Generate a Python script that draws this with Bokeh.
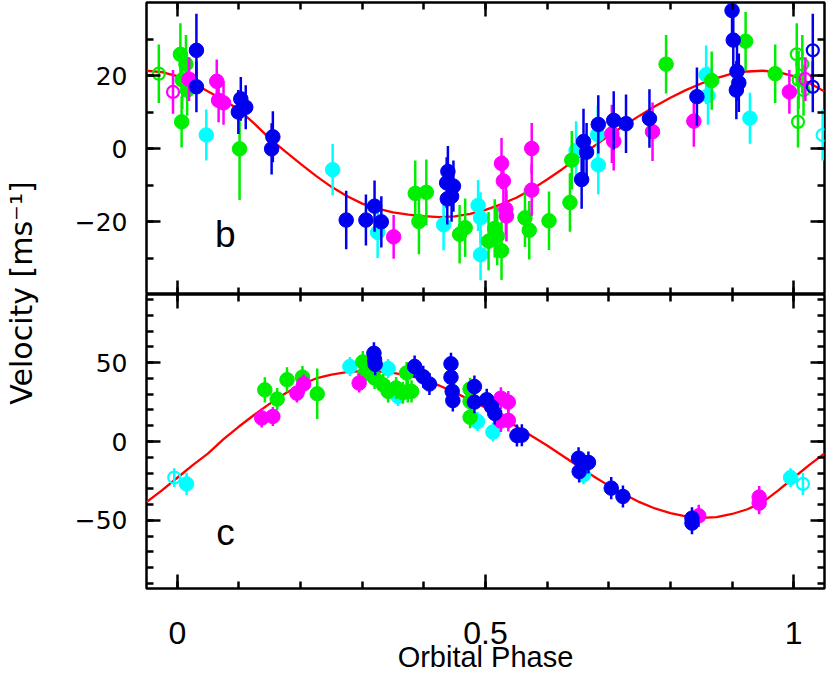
import math
from bokeh.plotting import figure
from bokeh.models import (Range1d, FixedTicker, LinearAxis, ColumnDataSource,
                          CustomJSTickFormatter)
from bokeh.layouts import row, column
from bokeh.embed import file_html
from bokeh.resources import INLINE
from bokeh.core.properties import value

# ---------------- data: planet b (top panel) ----------------
b_phase = [0.005, 0.014, 0.008, 0.016, 0.007, 0.101, 0.386, 0.392, 0.404, 0.458,
           0.467, 0.505, 0.515, 0.519, 0.526, 0.564, 0.571, 0.603, 0.637, 0.640,
           0.793, 0.867, 0.922, 0.970,
           0.047, 0.252, 0.325, 0.432, 0.488, 0.492, 0.492, 0.647, 0.682, 0.683,
           0.858, 0.861, 0.929,
           0.019, 0.064, 0.067, 0.075, 0.351, 0.526, 0.529, 0.533, 0.534, 0.575,
           0.575, 0.705, 0.708, 0.771, 0.838, 0.993,
           0.031, 0.031, 0.099, 0.103, 0.111, 0.153, 0.155, 0.274, 0.306, 0.320,
           0.331, 0.437, 0.438, 0.439, 0.445, 0.448, 0.656, 0.659, 0.664, 0.683,
           0.708, 0.728, 0.766, 0.843, 0.900, 0.902, 0.907, 0.908, 0.911]
b_rv = [25.8, 23.1, 18.8, 16.0, 7.3, -0.1, -12.3, -20.0, -12.0, -23.5,
        -21.7, -25.4, -21.9, -24.0, -28.0, -19.0, -22.4, -19.8, -14.8, -3.2,
        23.1, 18.6, 29.4, 20.5,
        3.7, -5.8, -23.0, -20.9, -15.6, -19.0, -29.1, -0.5, 3.8, -4.5,
        20.2, 14.5, 8.3,
        19.0, 18.4, 13.2, 12.5, -24.2, -4.1, -8.9, -16.6, -18.5, 0.0,
        -11.4, 4.0, 2.0, 4.6, 7.5, 15.5,
        26.9, 16.9, 10.0, 13.6, 11.3, -0.1, 3.2, -19.6, -19.6, -15.8,
        -20.1, -9.4, -13.8, -6.3, -13.1, -10.3, -8.5, 1.9, -1.0, 6.6,
        7.7, 6.8, 8.2, 14.2, 37.8, 29.7, 16.0, 21.1, 18.0]
b_err = [8.5, 8, 8, 7, 7, 14, 9, 9, 9, 8,
         8, 8, 8, 8, 8, 8, 8, 8, 8, 8,
         8, 8, 8, 8,
         7, 7, 7, 7, 7, 7, 7, 8, 8, 8,
         8, 8, 7,
         6, 6, 6, 6, 6, 7, 7, 7, 7, 7,
         7, 8, 8, 8, 7, 6,
         10, 7, 6, 6, 6, 7, 7, 8, 7, 7,
         7, 7, 7, 7, 7, 7, 8, 9, 8, 8,
         8, 8, 8, 8, 8, 8, 8, 8, 8]
b_inst = ["G"] * 24 + ["C"] * 13 + ["M"] * 16 + ["B"] * 29

b_model_phase = [-0.05, -0.025, 0.0, 0.025, 0.05, 0.075, 0.10, 0.125, 0.15, 0.175,
                 0.20, 0.225, 0.25, 0.275, 0.30, 0.325, 0.35, 0.375, 0.40, 0.425,
                 0.45, 0.475, 0.50, 0.525, 0.55, 0.575, 0.60, 0.625, 0.65, 0.675,
                 0.70, 0.725, 0.75, 0.775, 0.80, 0.825, 0.85, 0.875, 0.90, 0.925,
                 0.95, 0.975, 1.0, 1.025, 1.05]
b_model_rv = [21.3, 20.9, 19.8, 18.0, 15.6, 13.3, 10.6, 6.8, 2.7, -0.8,
              -4.2, -7.5, -10.5, -13.0, -15.1, -16.5, -17.5, -18.1, -18.5, -18.8,
              -18.6, -17.9, -16.8, -15.3, -13.5, -11.2, -8.5, -5.6, -2.5, 0.5,
              3.5, 6.3, 9.0, 11.6, 13.9, 16.0, 17.8, 19.3, 20.5, 21.1,
              21.3, 20.9, 19.8, 18.0, 15.6]

# ---------------- data: planet c (bottom panel) ----------------
c_phase = [0.142, 0.162, 0.178, 0.203, 0.227, 0.301, 0.304, 0.320, 0.334, 0.342,
           0.355, 0.366, 0.374, 0.372, 0.380, 0.475, 0.475, 0.475,
           0.015, 0.280, 0.342, 0.358, 0.487, 0.512, 0.657, 0.659, 0.995,
           0.137, 0.155, 0.194, 0.205, 0.295, 0.525, 0.537, 0.525, 0.537, 0.846,
           0.944, 0.944,
           0.319, 0.320, 0.321, 0.385, 0.399, 0.409, 0.444, 0.444, 0.446, 0.447,
           0.482, 0.482, 0.502, 0.510, 0.515, 0.551, 0.559, 0.651, 0.652, 0.667,
           0.704, 0.723, 0.835, 0.835]
c_rv = [32.8, 26.9, 39.2, 40.9, 30.3, 50.5, 43.0, 40.3, 36.0, 31.8,
        34.0, 31.0, 31.8, 43.5, 31.8, 33.3, 25.4, 15.4,
        -26.9, 47.6, 46.3, 28.6, 12.7, 6.0, -12.7, -21.2, -22.9,
        14.9, 15.9, 30.7, 36.5, 37.1, 27.5, 25.0, 13.0, 13.4, -47.2,
        -35.3, -39.1,
        56.0, 52.0, 49.0, 47.6, 41.1, 36.5, 49.3, 40.8, 31.8, 26.0,
        34.9, 25.0, 26.5, 22.0, 17.8, 3.8, 4.0, -10.6, -19.1, -13.3,
        -29.6, -34.9, -48.7, -51.8]
c_err = [8, 7, 8, 7, 16, 7, 7, 7, 7, 7,
         7, 7, 7, 7, 7, 7, 7, 7,
         7, 6, 6, 6, 6, 6, 6, 6, 6,
         6, 6, 6, 6, 6, 7, 7, 7, 7, 7,
         7, 7,
         7, 7, 7, 7, 7, 7, 7, 7, 7, 7,
         7, 7, 7, 7, 7, 7, 7, 7, 7, 7,
         7, 7, 7, 7]
c_inst = ["G"] * 18 + ["C"] * 9 + ["M"] * 12 + ["B"] * 24

c_model_phase = [-0.05, -0.025, 0.0, 0.025, 0.05, 0.075, 0.10, 0.125, 0.15, 0.175,
                 0.20, 0.225, 0.25, 0.275, 0.30, 0.325, 0.35, 0.375, 0.40, 0.425,
                 0.45, 0.475, 0.50, 0.525, 0.55, 0.575, 0.60, 0.625, 0.65, 0.675,
                 0.70, 0.725, 0.75, 0.775, 0.80, 0.825, 0.85, 0.875, 0.90, 0.925,
                 0.95, 0.975, 1.0, 1.025, 1.05]
c_model_rv = [-38.5, -31.0, -23.0, -15.0, -7.5, 1.5, 9.5, 17.0, 24.0, 30.5,
              36.0, 40.0, 42.5, 44.0, 44.7, 44.5, 43.5, 41.8, 39.5, 35.5,
              31.0, 26.5, 21.5, 16.0, 9.5, 3.5, -2.5, -9.0, -15.5, -22.0,
              -28.0, -33.5, -38.5, -42.5, -45.5, -47.5, -48.5, -48.0, -46.0, -43.0,
              -38.5, -31.0, -23.0, -15.0, -7.5]

# ---------------- axis / tick values ----------------
x_major = [0.0, 0.5, 1.0]
x_major_labels = ["0", "0.5", "1"]
x_minor = [0.0, 0.1, 0.2, 0.3, 0.4, 0.5, 0.6, 0.7, 0.8, 0.9, 1.0]
b_major = [-20, 0, 20]
b_minor = [-30, -20, -10, 0, 10, 20, 30]
c_major = [-50, 0, 50]
c_minor = [-90, -80, -70, -60, -50, -40, -30, -20, -10, 0, 10, 20, 30, 40, 50, 60, 70, 80, 90]

# ---------------- layout / styles ----------------
X_RANGE = Range1d(-0.05, 1.05)
FRAME_W = 678
LEFT_BORDER = 98
RIGHT_BORDER = 2
LAB_W = 48
TOP_FRAME_H, BOT_FRAME_H = 292, 294
XLAB_H = 82
TOTAL_H = 2 + TOP_FRAME_H + BOT_FRAME_H + 2 + XLAB_H
INST_COLOR = {"G": "#00ee00", "C": "#00ffff", "M": "#ff00ff", "B": "#0000ee"}
DRAW_ORDER = ["C", "G", "M", "B"]

Y_FMT = CustomJSTickFormatter(code="return tick < 0 ? '\\u2212' + String(-tick) : String(tick);")


def style_axis(ax, major, minor, show_labels):
    ax.ticker = FixedTicker(ticks=major, minor_ticks=minor)
    ax.axis_line_color = None
    ax.major_tick_in = 14
    ax.major_tick_out = 0
    ax.minor_tick_in = 7
    ax.minor_tick_out = 0
    ax.major_tick_line_width = 2.5
    ax.minor_tick_line_width = 2.5
    ax.major_tick_line_color = "black"
    ax.minor_tick_line_color = "black"
    if show_labels:
        ax.formatter = Y_FMT
        ax.major_label_text_font = "DejaVu Sans"
        ax.major_label_text_font_size = "25px"
        ax.major_label_text_color = "black"
        ax.major_label_standoff = 19
    else:
        ax.major_label_text_font_size = "0px"
        ax.major_label_text_color = None
        ax.major_label_standoff = 0


def make_panel(phase, rv, err, inst, mphase, mrv, yrange, ymajor, yminor,
               frame_h, top_border, bottom_border):
    p = figure(frame_width=FRAME_W, frame_height=frame_h,
               x_range=X_RANGE, y_range=Range1d(*yrange),
               output_backend="svg", toolbar_location=None,
               min_border_left=LEFT_BORDER, min_border_right=RIGHT_BORDER,
               min_border_top=top_border, min_border_bottom=bottom_border,
               outline_line_color="black", outline_line_width=2.5,
               background_fill_color="white", border_fill_color="white")
    p.grid.visible = False

    style_axis(p.xaxis[0], x_major, x_minor, False)
    style_axis(p.yaxis[0], ymajor, yminor, True)
    ax_top = LinearAxis()
    style_axis(ax_top, x_major, x_minor, False)
    p.add_layout(ax_top, "above")
    ax_right = LinearAxis()
    style_axis(ax_right, ymajor, yminor, False)
    p.add_layout(ax_right, "right")

    # model curve
    p.line(mphase, mrv, line_color="#ff0000", line_width=2.3)

    # observations, plus phase-wrapped repeats drawn open
    for code in DRAW_ORDER:
        xs = [x for x, k in zip(phase, inst) if k == code]
        ys = [y for y, k in zip(rv, inst) if k == code]
        es = [e for e, k in zip(err, inst) if k == code]
        col = INST_COLOR[code]
        wx, wy, we = [], [], []
        for x, y, e in zip(xs, ys, es):
            for shift in (-1.0, 1.0):
                if X_RANGE.start <= x + shift <= X_RANGE.end:
                    wx.append(x + shift)
                    wy.append(y)
                    we.append(e)
        if wx:
            ws = ColumnDataSource(dict(x=wx, y=wy, lo=[y - e for y, e in zip(wy, we)],
                                       hi=[y + e for y, e in zip(wy, we)]))
            p.segment("x", "lo", "x", "hi", source=ws, line_color=col, line_width=2.5)
            p.scatter("x", "y", source=ws, marker="circle", size=12,
                      fill_color=None, line_color=col, line_width=2.2)
        src = ColumnDataSource(dict(x=xs, y=ys, lo=[y - e for y, e in zip(ys, es)],
                                    hi=[y + e for y, e in zip(ys, es)]))
        p.segment("x", "lo", "x", "hi", source=src, line_color=col, line_width=2.5)
        p.scatter("x", "y", source=src, marker="circle", size=14.5,
                  fill_color=col, line_color=col, line_width=1)
    return p


top = make_panel(b_phase, b_rv, b_err, b_inst, b_model_phase, b_model_rv,
                 (-40, 40), b_major, b_minor, TOP_FRAME_H, 2, 0)
top.text(x=[0.078], y=[-23.5], text=["b"], text_align="center", text_baseline="middle",
         text_font=value("Liberation Sans"), text_font_size="37px", text_color="black")

bottom = make_panel(c_phase, c_rv, c_err, c_inst, c_model_phase, c_model_rv,
                    (-93.3, 93.3), c_major, c_minor, BOT_FRAME_H, 0, 2)
bottom.text(x=[0.078], y=[-57.5], text=["c"], text_align="center", text_baseline="middle",
            text_font=value("Liberation Sans"), text_font_size="37px", text_color="black")

# x tick labels and x title, in a strip sharing the panels' x scale
xlab = figure(frame_width=FRAME_W, frame_height=XLAB_H, x_range=X_RANGE,
              y_range=Range1d(0, XLAB_H), toolbar_location=None, output_backend="svg",
              min_border_left=LEFT_BORDER, min_border_right=RIGHT_BORDER,
              min_border_top=0, min_border_bottom=0,
              x_axis_location=None, y_axis_location=None, outline_line_color=None)
xlab.grid.visible = False
xlab.text(x=x_major, y=[XLAB_H - 42.5] * len(x_major), text=x_major_labels,
          text_align="center", text_baseline="middle",
          text_font=value("Liberation Sans"), text_font_size="32px", text_color="black")
xlab.text(x=[0.5], y=[16], text=["Orbital Phase"], text_align="center",
          text_baseline="middle", text_font=value("Liberation Sans"),
          text_font_size="29px", text_color="black")

# y title strip on the left
lab = figure(width=LAB_W, height=TOTAL_H, x_range=Range1d(0, LAB_W), y_range=Range1d(0, TOTAL_H),
             toolbar_location=None, output_backend="svg", min_border=0,
             x_axis_location=None, y_axis_location=None, outline_line_color=None)
lab.grid.visible = False
lab.text(x=[21], y=[TOTAL_H - 292.5], text=["Velocity [ms\u207b\u00b9]"], angle=math.pi / 2,
         text_align="center", text_baseline="middle",
         text_font=value("DejaVu Sans"), text_font_size="30px", text_color="black")

layout = row(lab, column(top, bottom, xlab))
open("out.html", "w").write(file_html(layout, INLINE))
